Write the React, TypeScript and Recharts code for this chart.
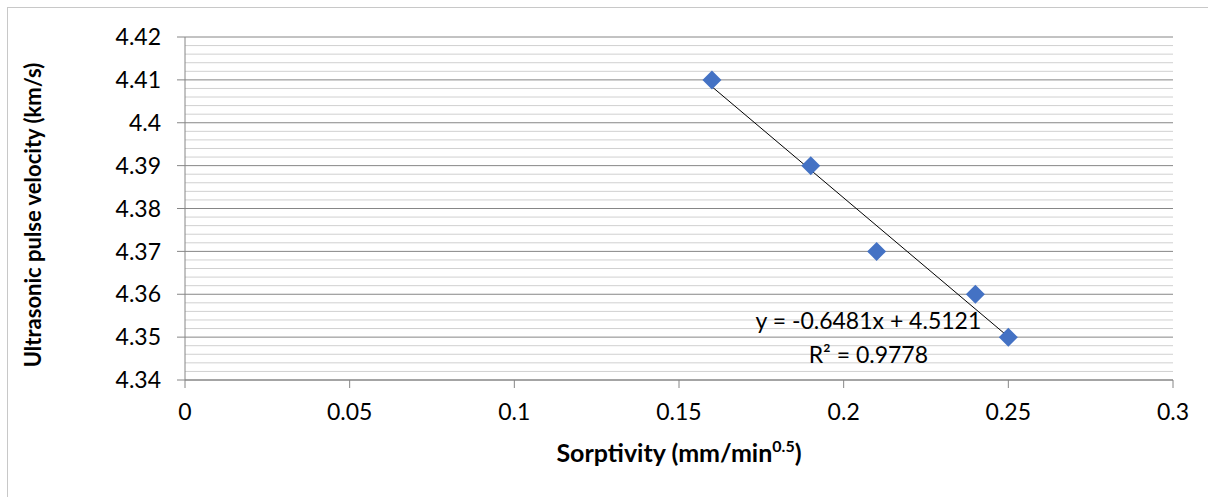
import React from 'react';
import {
  ScatterChart,
  Scatter,
  XAxis,
  YAxis,
  CartesianGrid,
  ReferenceLine,
  ReferenceDot,
  Label,
} from 'recharts';

// sorptivity (mm/min^0.5) vs ultrasonic pulse velocity (km/s)
const sorptivity = [0.16, 0.19, 0.21, 0.24, 0.25];
const pulseVelocity = [4.41, 4.39, 4.37, 4.36, 4.35];

const xTicks = [0, 0.05, 0.1, 0.15, 0.2, 0.25, 0.3];
const yTicks = [4.34, 4.35, 4.36, 4.37, 4.38, 4.39, 4.4, 4.41, 4.42];
const yMinorTicks = [
  4.342, 4.344, 4.346, 4.348, 4.352, 4.354, 4.356, 4.358,
  4.362, 4.364, 4.366, 4.368, 4.372, 4.374, 4.376, 4.378,
  4.382, 4.384, 4.386, 4.388, 4.392, 4.394, 4.396, 4.398,
  4.402, 4.404, 4.406, 4.408, 4.412, 4.414, 4.416, 4.418,
];

// linear trendline from the fit
const trendSlope = -0.6481;
const trendIntercept = 4.5121;
const trendR2 = 0.9778;

const points = sorptivity.map((x, i) => ({ x, y: pulseVelocity[i] }));
const xFirst = sorptivity[0];
const xLast = sorptivity[sorptivity.length - 1];
const trendSegment = [
  { x: xFirst, y: trendSlope * xFirst + trendIntercept },
  { x: xLast, y: trendSlope * xLast + trendIntercept },
];

const FONT = 'Lato, "Open Sans", sans-serif';
const AXIS_GRAY = '#868686';

const Diamond = (props: any) => {
  const { cx, cy } = props;
  const r = 9.5;
  return (
    <polygon
      points={`${cx},${cy - r} ${cx + r},${cy} ${cx},${cy + r} ${cx - r},${cy}`}
      fill="#4472C4"
    />
  );
};

const YTitle = () => (
  <text
    x={32}
    y={215}
    transform="rotate(-90, 32, 215)"
    textAnchor="middle"
    dominantBaseline="central"
    fontFamily={FONT}
    fontSize={22}
    fontWeight="bold"
    fill="#000"
  >
    Ultrasonic pulse velocity (km/s)
  </text>
);

const XTitle = () => (
  <text
    x={679}
    y={462}
    textAnchor="middle"
    fontFamily={FONT}
    fontSize={25}
    fontWeight="bold"
    fill="#000"
  >
    Sorptivity (mm/min
    <tspan dy={-10} fontSize={16}>0.5</tspan>
    <tspan dy={10}>)</tspan>
  </text>
);

const labelStyle = { fill: '#000', fontSize: 23, fontFamily: FONT };

export default function App() {
  const sign = trendIntercept >= 0 ? '+' : '-';
  const equation = `y = ${trendSlope}x ${sign} ${Math.abs(trendIntercept)}`;

  return (
    <div
      style={{
        position: 'absolute',
        left: 0,
        top: 0,
        width: 1208,
        height: 497,
        overflow: 'hidden',
        background: '#fff',
      }}
    >
      <div
        style={{
          position: 'absolute',
          left: 7,
          top: 7,
          width: 1210,
          height: 510,
          border: '1px solid #c8c8c8',
        }}
      />
      <div style={{ position: 'absolute', left: 0, top: 0 }}>
        <ScatterChart
          width={1208}
          height={497}
          margin={{ top: 37, right: 35, bottom: 0, left: 0 }}
        >
          <CartesianGrid vertical={false} stroke={AXIS_GRAY} strokeWidth={1} />
          {yMinorTicks.map((v) => (
            <ReferenceLine key={v} y={v} stroke="#d0d0d0" strokeWidth={1} />
          ))}
          <XAxis
            type="number"
            dataKey="x"
            domain={[0, 0.3]}
            ticks={xTicks}
            interval={0}
            height={117}
            stroke={AXIS_GRAY}
            tickSize={8}
            tickMargin={16}
            tick={labelStyle}
            allowDataOverflow
          >
            <Label content={<XTitle />} />
          </XAxis>
          <YAxis
            type="number"
            dataKey="y"
            domain={[4.34, 4.42]}
            ticks={yTicks}
            interval={0}
            width={185}
            stroke={AXIS_GRAY}
            tickSize={8}
            tickMargin={16}
            tick={labelStyle}
            allowDataOverflow
          >
            <Label content={<YTitle />} />
          </YAxis>
          <ReferenceLine
            segment={trendSegment}
            stroke="#000"
            strokeWidth={1}
            ifOverflow="visible"
          />
          <Scatter
            data={points}
            shape={<Diamond />}
            isAnimationActive={false}
          />
          <ReferenceDot
            x={0.2075}
            y={4.3538}
            r={0}
            fill="none"
            stroke="none"
            ifOverflow="visible"
            label={{ value: equation, position: 'center', ...labelStyle }}
          />
          <ReferenceDot
            x={0.2075}
            y={4.3458}
            r={0}
            fill="none"
            stroke="none"
            ifOverflow="visible"
            label={{ value: `R² = ${trendR2}`, position: 'center', ...labelStyle }}
          />
        </ScatterChart>
      </div>
    </div>
  );
}
